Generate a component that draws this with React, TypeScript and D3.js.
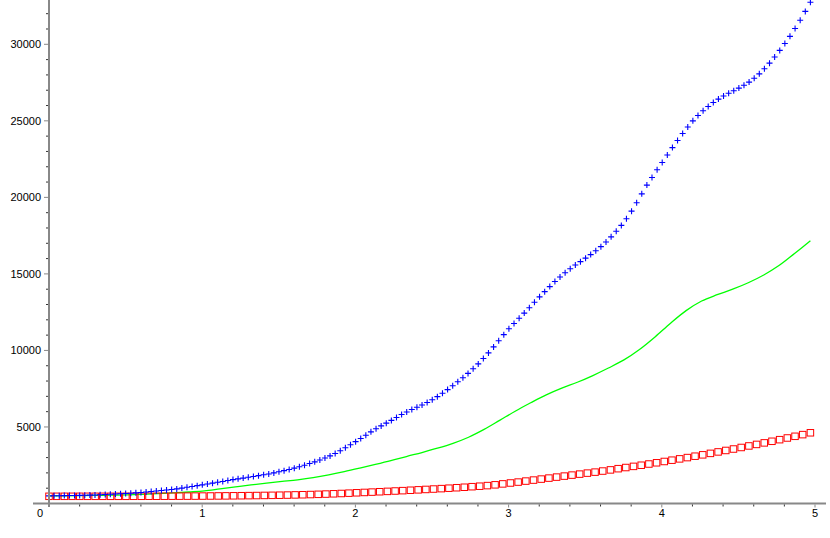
import React from "react";
import * as d3 from "d3";

// sampling grid shared by all three curves ends at t = 4.97
const T_END = 4.97;

// blue crosses (150 samples)
const blueValues = [
  500, 505, 510, 515, 520, 525, 530, 540, 550, 560,
  575, 590, 605, 620, 635, 650, 670, 695, 720, 750,
  780, 815, 850, 880, 910, 955, 1005, 1060, 1110, 1165,
  1220, 1275, 1330, 1385, 1440, 1500, 1560, 1610, 1660, 1715,
  1765, 1820, 1875, 1930, 2000, 2070, 2145, 2225, 2310, 2400,
  2500, 2610, 2720, 2840, 2970, 3110, 3270, 3450, 3640, 3840,
  4040, 4250, 4460, 4680, 4880, 5070, 5250, 5430, 5620, 5810,
  5980, 6140, 6290, 6440, 6600, 6780, 6980, 7200, 7440, 7690,
  7950, 8220, 8500, 8800, 9120, 9470, 9840, 10230, 10630, 11030,
  11420, 11760, 12100, 12440, 12790, 13150, 13500, 13840, 14170, 14500,
  14800, 15080, 15340, 15580, 15800, 16030, 16260, 16510, 16780, 17080,
  17420, 17790, 18170, 18600, 19100, 19650, 20230, 20800, 21300, 21800,
  22280, 22770, 23250, 23720, 24170, 24600, 25000, 25350, 25660, 25940,
  26200, 26420, 26620, 26800, 26970, 27140, 27320, 27530, 27780, 28070,
  28400, 28770, 29170, 29600, 30050, 30520, 31030, 31570, 32150, 32750,
];

// green line (50 samples)
const greenValues = [
  500, 505, 512, 525, 545, 570, 600, 640, 690, 750,
  820, 950, 1080, 1210, 1330, 1440, 1550, 1690, 1870, 2080,
  2310, 2550, 2800, 3070, 3330, 3610, 3930, 4330, 4840, 5430,
  6030, 6580, 7100, 7540, 7920, 8360, 8850, 9380, 10060, 10880,
  11780, 12600, 13230, 13640, 14000, 14420, 14930, 15560, 16350, 17160,
];

// red squares (100 samples)
const redValues = [
  470, 470, 470, 470, 470, 470, 470, 470, 470, 470,
  470, 472, 472, 474, 474, 476, 478, 480, 482, 484,
  486, 490, 494, 498, 503, 508, 514, 520, 527, 534,
  542, 551, 561, 572, 585, 600, 616, 634, 654, 676,
  700, 722, 745, 768, 792, 816, 840, 866, 892, 918,
  945, 972, 1000, 1030, 1062, 1098, 1130, 1170, 1220, 1280,
  1340, 1400, 1465, 1530, 1595, 1660, 1725, 1790, 1855, 1920,
  1985, 2050, 2120, 2195, 2275, 2350, 2425, 2500, 2580, 2660,
  2745, 2830, 2915, 3000, 3090, 3180, 3275, 3370, 3465, 3560,
  3660, 3760, 3860, 3960, 4065, 4170, 4280, 4390, 4500, 4620,
];

const xTicks = [1, 2, 3, 4, 5];
const yTicks = [5000, 10000, 15000, 20000, 25000, 30000];

const W = 830;
const H = 538;

const grid = (n: number) => d3.range(n).map((k) => (k * T_END) / (n - 1));

export default function App() {
  const x = d3.scaleLinear().domain([0, 5]).range([49, 815]);
  const y = d3.scaleLinear().domain([0, 30000]).range([503.5, 44.3]);

  const blue = grid(blueValues.length).map((t, i) => [t, blueValues[i]]);
  const green = grid(greenValues.length).map((t, i) => [t, greenValues[i]]);
  const red = grid(redValues.length).map((t, i) => [t, redValues[i]]);

  const line = d3
    .line<number[]>()
    .x((d) => x(d[0]))
    .y((d) => y(d[1]))
    .curve(d3.curveCatmullRom.alpha(0.5));

  const xMinor = d3.range(0.2, 5.01, 0.2).filter((v) => Math.abs(v - Math.round(v)) > 0.01);
  const yMinor = d3.range(1000, 32001, 1000).filter((v) => v % 5000 !== 0);

  const axisColor = "#888888";
  const font = "'Liberation Sans', Arial, sans-serif";

  return (
    <div style={{ position: "absolute", left: 0, top: 0 }}>
      <svg width={W} height={H} style={{ display: "block", background: "#fff" }}>
        <rect width={W} height={H} fill="#fff" />

        {/* green curve */}
        <path d={line(green) || ""} fill="none" stroke="#00ff00" strokeWidth={1.3} />

        {/* red squares */}
        {red.map((d, i) => (
          <rect
            key={"r" + i}
            x={x(d[0]) - 3.25}
            y={y(d[1]) - 3.25}
            width={6.5}
            height={6.5}
            fill="none"
            stroke="#ff0000"
            strokeWidth={1}
          />
        ))}

        {/* blue crosses */}
        {blue.map((d, i) => {
          const cx = x(d[0]);
          const cy = y(d[1]);
          return (
            <path
              key={"b" + i}
              d={`M${cx - 3},${cy}H${cx + 3}M${cx},${cy - 3}V${cy + 3}`}
              stroke="#0000ff"
              strokeWidth={1.1}
              fill="none"
            />
          );
        })}

        {/* axes */}
        <line x1={33} x2={826} y1={y(0)} y2={y(0)} stroke={axisColor} strokeWidth={2} />
        <line x1={x(0)} x2={x(0)} y1={0} y2={507} stroke={axisColor} strokeWidth={2} />

        {xMinor.map((v) => (
          <line key={"xm" + v} x1={x(v)} x2={x(v)} y1={y(0) + 1} y2={y(0) + 3} stroke="#333" strokeWidth={1} />
        ))}
        {xTicks.map((v) => (
          <g key={"xt" + v}>
            <line x1={x(v)} x2={x(v)} y1={y(0) + 1} y2={y(0) + 4} stroke={axisColor} strokeWidth={1} />
            <text x={x(v)} y={517} textAnchor="middle" fontFamily={font} fontSize={11} fill="#000">
              {v}
            </text>
          </g>
        ))}

        {yMinor.map((v) => (
          <line key={"ym" + v} x1={x(0) - 3} x2={x(0) - 1} y1={y(v)} y2={y(v)} stroke="#333" strokeWidth={1} />
        ))}
        {yTicks.map((v) => (
          <g key={"yt" + v}>
            <line x1={x(0) - 5} x2={x(0)} y1={y(v)} y2={y(v)} stroke={axisColor} strokeWidth={1} />
            <text x={41} y={y(v) + 4} textAnchor="end" fontFamily={font} fontSize={11} fill="#000">
              {v}
            </text>
          </g>
        ))}
        <text x={40} y={517} textAnchor="middle" fontFamily={font} fontSize={11} fill="#000">
          0
        </text>
      </svg>
    </div>
  );
}
